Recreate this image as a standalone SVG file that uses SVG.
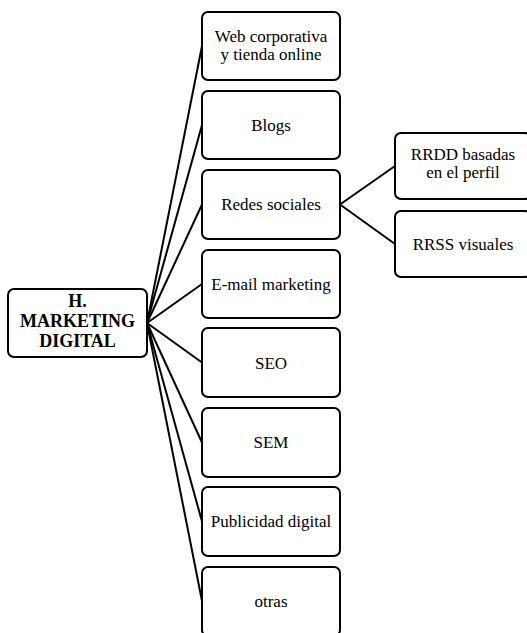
<svg xmlns="http://www.w3.org/2000/svg" width="527" height="633" viewBox="0 0 527 633">
<style>
.box{fill:#fff;stroke:#000;stroke-width:2}
.lnk{stroke:#000;stroke-width:2;fill:none}
text{font-family:'Liberation Serif','Times New Roman',Times,serif;fill:#000;text-anchor:middle}
.t{font-size:17px}
.tb{font-size:18px;font-weight:bold}
</style>
<rect width="527" height="633" fill="#fff"/>
<g id="connectors">
<line class="lnk" x1="147" y1="323" x2="202" y2="46"/>
<line class="lnk" x1="147" y1="323" x2="202" y2="125"/>
<line class="lnk" x1="147" y1="323" x2="202" y2="204.5"/>
<line class="lnk" x1="147" y1="323" x2="202" y2="284"/>
<line class="lnk" x1="147" y1="323" x2="202" y2="362.5"/>
<line class="lnk" x1="147" y1="323" x2="202" y2="442.5"/>
<line class="lnk" x1="147" y1="323" x2="202" y2="521.5"/>
<line class="lnk" x1="147" y1="323" x2="202" y2="601"/>
<line class="lnk" x1="340" y1="204.5" x2="395" y2="166"/>
<line class="lnk" x1="340" y1="204.5" x2="395" y2="244"/>
</g>
<g id="root">
<rect class="box" x="8" y="289" width="139" height="68" rx="6"/>
<text class="tb" x="77.5" y="307">H.</text>
<text class="tb" x="77.5" y="327">MARKETING</text>
<text class="tb" x="77.5" y="347">DIGITAL</text>
</g>
<g id="web">
<rect class="box" x="202" y="12" width="138" height="68" rx="6"/>
<text class="t" x="271" y="42">Web corporativa</text>
<text class="t" x="271" y="60">y tienda online</text>
</g>
<g id="blogs">
<rect class="box" x="202" y="91" width="138" height="68" rx="6"/>
<text class="t" x="271" y="131">Blogs</text>
</g>
<g id="redes">
<rect class="box" x="202" y="170" width="138" height="69" rx="6"/>
<text class="t" x="271" y="210">Redes sociales</text>
</g>
<g id="email">
<rect class="box" x="202" y="250" width="138" height="68" rx="6"/>
<text class="t" x="271" y="290">E-mail marketing</text>
</g>
<g id="seo">
<rect class="box" x="202" y="328" width="138" height="69" rx="6"/>
<text class="t" x="271" y="369">SEO</text>
</g>
<g id="sem">
<rect class="box" x="202" y="408" width="138" height="69" rx="6"/>
<text class="t" x="271" y="448">SEM</text>
</g>
<g id="publicidad">
<rect class="box" x="202" y="487" width="138" height="69" rx="6"/>
<text class="t" x="271" y="527">Publicidad digital</text>
</g>
<g id="otras">
<rect class="box" x="202" y="567" width="138" height="69" rx="6"/>
<text class="t" x="271" y="607">otras</text>
</g>
<g id="rrdd">
<rect class="box" x="395" y="133" width="136" height="66" rx="6"/>
<text class="t" x="463" y="160">RRDD basadas</text>
<text class="t" x="463" y="178">en el perfil</text>
</g>
<g id="rrss">
<rect class="box" x="395" y="211" width="136" height="66" rx="6"/>
<text class="t" x="463" y="250">RRSS visuales</text>
</g>
</svg>
